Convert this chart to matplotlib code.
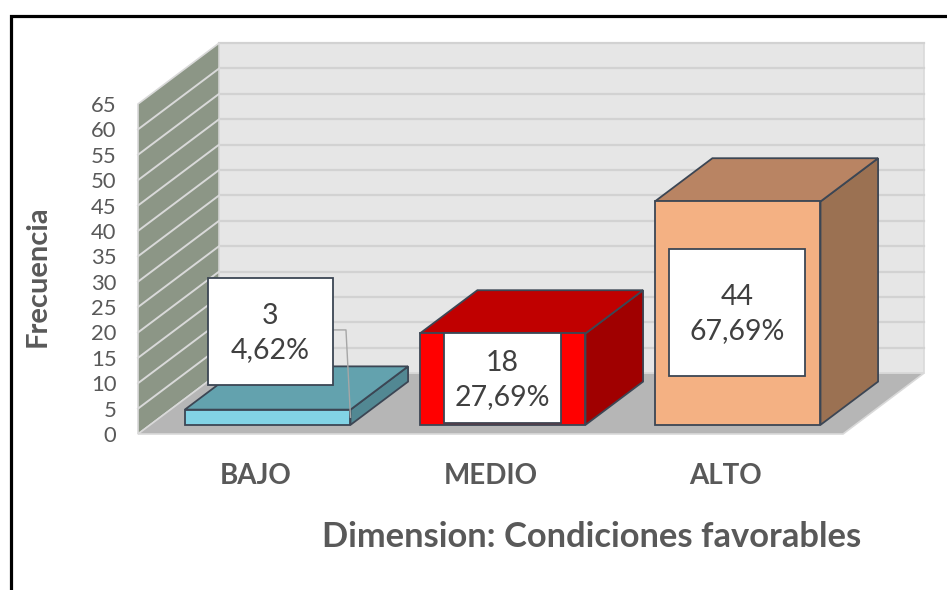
import matplotlib
matplotlib.use("Agg")
import matplotlib.pyplot as plt
from matplotlib.patches import Polygon, Rectangle

categories = ["BAJO", "MEDIO", "ALTO"]
frecuencia = [3, 18, 44]
porcentaje = ["4,62%", "27,69%", "67,69%"]
y_ticks = list(range(0, 70, 5))

front_colors = ["#82d3e5", "#ff0000", "#f4b183"]
top_colors = ["#63a2ae", "#c00000", "#b98463"]
side_colors = ["#528893", "#a00000", "#9b7152"]

# data label boxes were dragged around by hand in the original: centre and size in data units
label_pos = [(0.564, 20.2), (1.551, 11.0), (2.549, 23.9)]
label_size = [(0.532, 21.1), (0.498, 17.7), (0.579, 25.0)]
leader = [True, False, False]

YMAX = 65
DX, DY = 0.345, 12.0      # depth of the 3d box (category units, value units)
F0, F1 = 0.15, 0.86       # front and back of the bars, as fraction of the depth
BAR_W = 0.705
EDGE = "#3c4654"
TXT = "#595959"

plt.rcParams["font.family"] = ["Lato", "DejaVu Sans"]

fig = plt.figure(figsize=(9.47, 5.9), dpi=100)
ax = fig.add_axes([138 / 947, 156 / 590, 705 / 947, 330 / 590])
ax.set_xlim(0, 3)
ax.set_ylim(0, YMAX)
ax.set_facecolor("none")
for s in ax.spines.values():
    s.set_visible(False)

# outer chart border (cut off at right and bottom in the original)
fig.patches.append(Rectangle((10.8 / 947, -0.2), 1.2, 1.2 - 16.3 / 590,
                             transform=fig.transFigure, fill=False,
                             edgecolor="black", linewidth=2.3))

n = len(categories)

# back wall
ax.add_patch(Polygon([(DX, DY), (n + DX, DY), (n + DX, YMAX + DY), (DX, YMAX + DY)],
                     closed=True, facecolor="#e6e6e6", edgecolor="#d9d9d9",
                     linewidth=1.2, clip_on=False, zorder=1))
for v in y_ticks[1:]:
    ax.plot([DX, n + DX], [v + DY, v + DY], color="#d2d2d2", linewidth=1.6,
            clip_on=False, zorder=1.5)

# side wall
ax.add_patch(Polygon([(0, 0), (DX, DY), (DX, YMAX + DY), (0, YMAX)],
                     closed=True, facecolor="#8c9686", edgecolor="#d9d9d9",
                     linewidth=1.2, clip_on=False, zorder=2))
for v in y_ticks[1:-1]:
    ax.plot([0, DX], [v, v + DY], color="#d9d9d9", linewidth=1.4,
            clip_on=False, zorder=2.5)

# floor
ax.add_patch(Polygon([(0, 0), (n, 0), (n + DX, DY), (DX, DY)],
                     closed=True, facecolor="#b6b6b6", edgecolor="#d9d9d9",
                     linewidth=1.2, clip_on=False, zorder=3))

# bars
ddx = (F1 - F0) * DX
ddy = (F1 - F0) * DY
for i, v in enumerate(frecuencia):
    x0 = i + (1 - BAR_W) / 2 + F0 * DX
    x1 = x0 + BAR_W
    y0 = F0 * DY
    y1 = y0 + v
    side = [(x1, y0), (x1 + ddx, y0 + ddy), (x1 + ddx, y1 + ddy), (x1, y1)]
    top = [(x0, y1), (x1, y1), (x1 + ddx, y1 + ddy), (x0 + ddx, y1 + ddy)]
    front = [(x0, y0), (x1, y0), (x1, y1), (x0, y1)]
    for pts, c in ((side, side_colors[i]), (top, top_colors[i]), (front, front_colors[i])):
        ax.add_patch(Polygon(pts, closed=True, facecolor=c, edgecolor=EDGE,
                             linewidth=1.3, joinstyle="miter", clip_on=False, zorder=4 + i))

    cx, cy = label_pos[i]
    bw, bh = label_size[i]
    if leader[i]:
        ax.plot([cx + bw / 2, cx + bw / 2 + 0.055, x1], [cy + 0.3, cy + 0.3, y0 + v / 2],
                color="#a6a6a6", linewidth=1.0, clip_on=False, zorder=7.5)
    ax.add_patch(Rectangle((cx - bw / 2, cy - bh / 2), bw, bh, facecolor="white",
                           edgecolor=EDGE, linewidth=1.3, clip_on=False, zorder=8))
    ax.text(cx, cy - 0.3, f"{v}\n{porcentaje[i]}", ha="center", va="center",
            fontsize=20.5, color="#404040", linespacing=1.38, zorder=9)

# axes text
ax.set_yticks(y_ticks)
ax.tick_params(axis="y", length=0, pad=15.5, labelsize=15.8, labelcolor=TXT)
ax.set_xticks([i + 0.5 for i in range(n)])
ax.set_xticklabels(categories, fontweight="bold")
ax.tick_params(axis="x", length=0, pad=21, labelsize=20, labelcolor=TXT)

ax.set_ylabel("Frecuencia", fontsize=21, fontweight="bold", color=TXT, va="center")
ax.yaxis.set_label_coords((37.5 - 138) / 705, (434 - 276) / 330)
ax.set_xlabel("Dimension: Condiciones favorables", fontsize=24.8, fontweight="bold",
              color=TXT, va="center")
ax.xaxis.set_label_coords((591.5 - 138) / 705, (434 - 537) / 330)

fig.savefig("out.png", dpi=100)
